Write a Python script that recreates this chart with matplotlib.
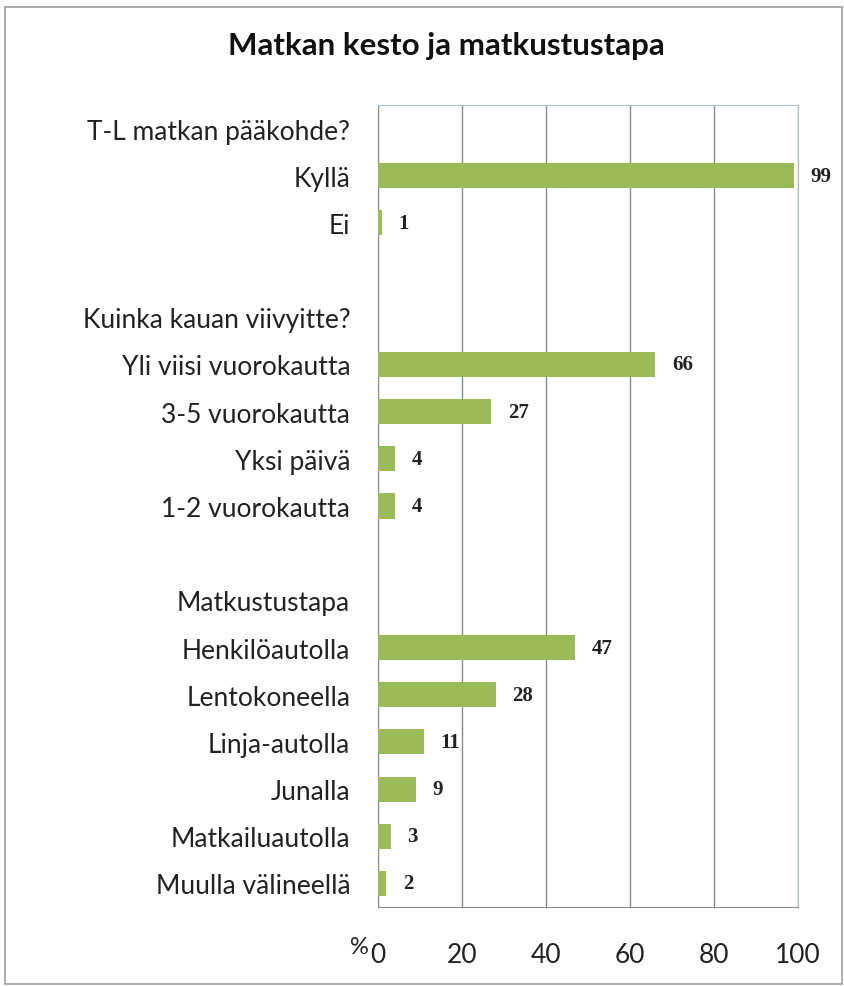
import matplotlib.pyplot as plt
from matplotlib.patches import Rectangle

# rivit ylhaalta alas, otsikkorivit ja tyhjat rivit ilman pylvasta
labels = ['T-L matkan pääkohde?', 'Kyllä', 'Ei', '',
          'Kuinka kauan viivyitte?', 'Yli viisi vuorokautta', '3-5 vuorokautta',
          'Yksi päivä', '1-2 vuorokautta', '',
          'Matkustustapa', 'Henkilöautolla', 'Lentokoneella', 'Linja-autolla',
          'Junalla', 'Matkailuautolla', 'Muulla välineellä']
values = [None, 99, 1, None,
          None, 66, 27, 4, 4, None,
          None, 47, 28, 11, 9, 3, 2]
xticks = [0, 20, 40, 60, 80, 100]

BAR_COLOR = '#9bbb59'
plt.rcParams['font.family'] = ['Lato', 'DejaVu Sans']

fig = plt.figure(figsize=(8.44, 9.87), dpi=100)
ax = fig.add_axes([378 / 844, 1 - 908 / 987, 420 / 844, 802 / 987])

pos = list(range(len(labels)))
for y, v in zip(pos, values):
    if v is None:
        continue
    ax.barh(y, v, height=0.53, color=BAR_COLOR, zorder=3)
    ax.annotate(str(v), (v, y), xytext=(12, 0), textcoords='offset points',
                va='center', ha='left', fontsize=15, fontweight='bold',
                family='Liberation Serif', color='#222222')

ax.set_xlim(0, 100)
ax.set_ylim(len(labels) - 0.5, -0.5)
ax.set_yticks(pos)
ax.set_yticklabels(labels, fontsize=19, color='#222222')
ax.set_xticks(xticks)
ax.set_xticklabels([str(t) for t in xticks], fontsize=19, color='#222222')
ax.tick_params(axis='both', length=0)
ax.tick_params(axis='y', pad=20)
ax.tick_params(axis='x', pad=25)
ax.grid(axis='x', color='#8c8c8c', linewidth=1, zorder=0)

for side in ['left', 'bottom']:
    ax.spines[side].set_color('#8c8c8c')
for side in ['top', 'right']:
    ax.spines[side].set_color('#a8c0cc')

fig.text(359 / 844, 1 - 948 / 987, '%', fontsize=17, ha='center', va='center', color='#222222')
fig.text(446 / 844, 1 - 46 / 987, 'Matkan kesto ja matkustustapa', fontsize=22.5,
         fontweight='bold', ha='center', va='center', color='#111111')

# kehys koko kuvan ympari
fig.patches.append(Rectangle((5 / 844, 2 / 987), 837 / 844, 977 / 987, transform=fig.transFigure,
                             fill=False, edgecolor='#a0a0a0', linewidth=1.2))

plt.savefig('out.png', dpi=100)
